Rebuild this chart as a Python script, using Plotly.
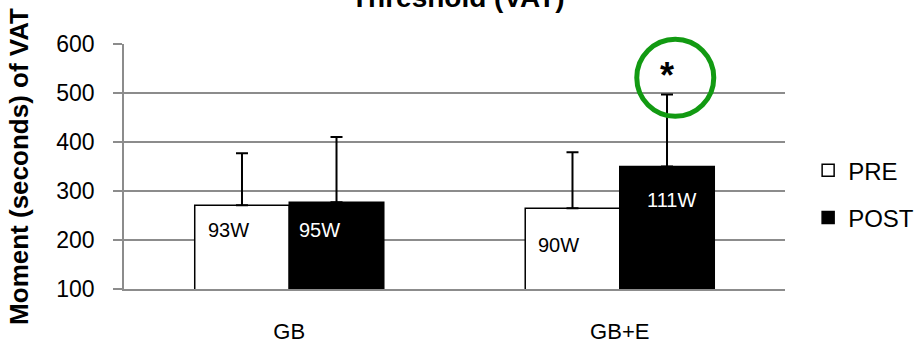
import plotly.graph_objects as go

# ---- data ----
categories = ["GB", "GB+E"]
pre_values = [271, 265]
post_values = [277, 350]
pre_err = [106, 114]
post_err = [133, 147]
pre_labels = ["93W", "90W"]
post_labels = ["95W", "111W"]
y_ticks = [100, 200, 300, 400, 500, 600]
series_names = ["PRE", "POST"]

# ---- layout constants ----
FONT = "Liberation Sans, Arial, sans-serif"
GRID = "#8c8c8c"
BARGAP = 0.428
bw = (1 - BARGAP) / 2
idx = list(range(len(categories)))
pre_x = [i - bw / 2 for i in idx]
post_x = [i + bw / 2 for i in idx]

fig = go.Figure()
fig.add_trace(go.Bar(
    x=idx, y=pre_values, name=series_names[0], legendgroup="a",
    marker=dict(color="white", line=dict(color="black", width=1.5)),
    error_y=dict(type="data", symmetric=False, array=pre_err,
                 arrayminus=[0] * len(pre_err), color="black",
                 thickness=2, width=6),
))
fig.add_trace(go.Bar(
    x=idx, y=post_values, name=series_names[1], legendgroup="b",
    marker=dict(color="black", line=dict(color="black", width=1.5)),
    error_y=dict(type="data", symmetric=False, array=post_err,
                 arrayminus=[0] * len(post_err), color="black",
                 thickness=2, width=6),
))

# green highlight circle around the significance mark
fig.add_trace(go.Scatter(
    x=[post_x[1] + 0.025], y=[post_values[1] + post_err[1] + 34],
    mode="markers", showlegend=False, hoverinfo="skip", cliponaxis=False,
    marker=dict(symbol="circle-open", size=77,
                line=dict(color="#129a12", width=5), color="#129a12"),
))

annotations = []
# bar labels
lab_pos = [
    (pre_x[0], 220, -13, pre_labels[0], "black"),
    (post_x[0], 220, -17, post_labels[0], "white"),
    (pre_x[1], 190, -14, pre_labels[1], "black"),
    (post_x[1], 282, 4, post_labels[1], "white"),
]
for x, y, xs, t, c in lab_pos:
    annotations.append(dict(x=x, y=y, xref="x", yref="y", xshift=xs,
                            text=t, showarrow=False,
                            font=dict(family=FONT, size=20, color=c)))
# asterisk
annotations.append(dict(x=post_x[1], y=post_values[1] + post_err[1], xref="x", yref="y",
                        yshift=-4, yanchor="bottom", text="<b>*</b>", showarrow=False,
                        font=dict(family=FONT, size=36, color="black")))
# title (top line cut off by the page edge)
annotations.append(dict(x=0.505, y=1 + (44 - 15) / 245, xref="paper", yref="paper",
                        xanchor="center", yanchor="bottom",
                        text="<b>Threshold (VAT)</b>", showarrow=False,
                        font=dict(family=FONT, size=28, color="black")))

fig.update_layout(
    width=918, height=344,
    margin=dict(l=124, r=133, t=44, b=55, autoexpand=False),
    paper_bgcolor="white", plot_bgcolor="white",
    barmode="group", bargap=BARGAP, bargroupgap=0,
    font=dict(family=FONT, size=22, color="black"),
    showlegend=True,
    legend=dict(x=1.035, y=0.575, xanchor="left", yanchor="top",
                font=dict(family=FONT, size=24, color="black"),
                tracegroupgap=13, traceorder="grouped",
                bgcolor="rgba(0,0,0,0)"),
    annotations=annotations,
)
fig.update_xaxes(
    range=[-0.5, len(categories) - 0.5], tickmode="array",
    tickvals=idx, ticktext=categories, showgrid=False, zeroline=False,
    showline=True, linecolor=GRID, linewidth=1.5, ticks="",
    ticklabelstandoff=22, tickfont=dict(family=FONT, size=22),
    automargin=False,
)
fig.update_yaxes(
    range=[100, 600], tickmode="array", tickvals=y_ticks,
    showgrid=True, gridcolor=GRID, gridwidth=1.5, zeroline=False,
    showline=True, linecolor=GRID, linewidth=1.5,
    ticks="outside", ticklen=9, tickcolor=GRID, tickwidth=1.5,
    ticklabelstandoff=14, tickfont=dict(family=FONT, size=23),
    title=dict(text="<b>Moment (seconds) of VAT</b>", standoff=20,
               font=dict(family=FONT, size=26)),
    automargin=False,
)

fig.write_html("out.html")
